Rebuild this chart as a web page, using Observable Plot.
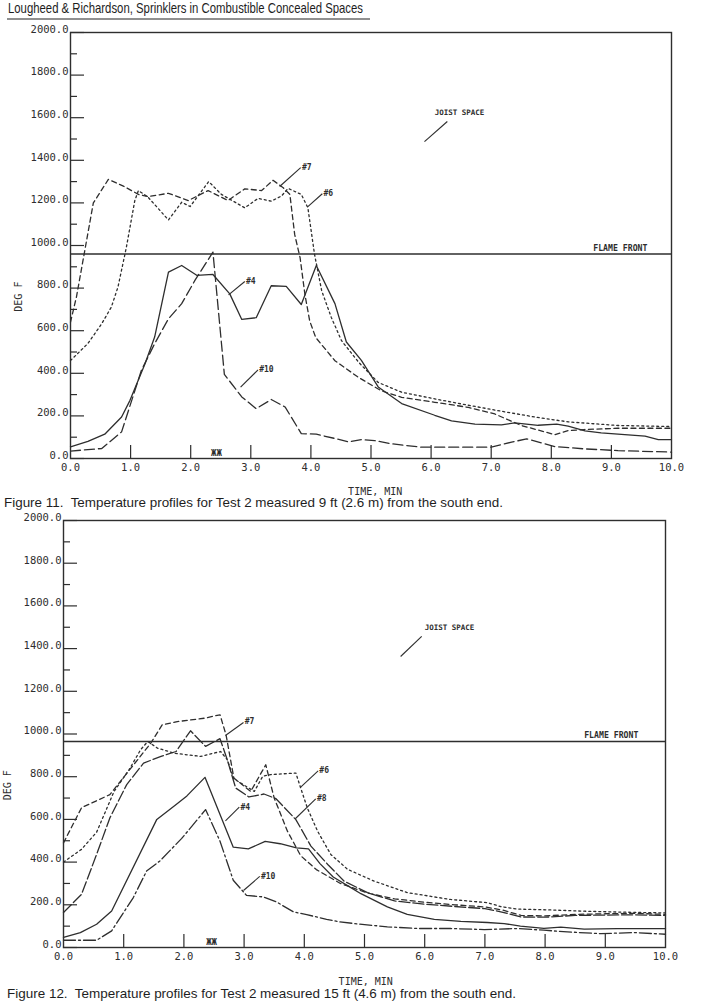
<!DOCTYPE html>
<html>
<head>
<meta charset="utf-8">
<script src="https://cdn.jsdelivr.net/npm/d3@7"></script>
<script src="https://cdn.jsdelivr.net/npm/@observablehq/plot@0.6"></script>
<style>
  body { margin: 0; background: #fff; width: 703px; height: 1007px; position: relative; overflow: hidden; }
  .abs { position: absolute; left: 0; }
  svg text.pre { white-space: pre; }
</style>
</head>
<body>
<div id="fig11" class="abs" style="top:20px"></div>
<div id="fig12" class="abs" style="top:506px"></div>
<div id="hdr" class="abs" style="top:0"></div>
<div id="cap11" class="abs" style="top:492px"></div>
<div id="cap12" class="abs" style="top:984px"></div>
<script>
// ---- axis ticks ----
const timeTicks = [0, 1, 2, 3, 4, 5, 6, 7, 8, 9, 10];
const innerTimeTicks = [1, 2, 3, 4, 5, 6, 7, 8, 9];
const tempTicks = [0, 200, 400, 600, 800, 1000, 1200, 1400, 1600, 1800, 2000];
const minorTempTicks = [100, 300, 500, 700, 900, 1100, 1300, 1500, 1700, 1900];

// ---- Figure 11: 9 ft from the south end, [time (min), temperature (deg F)] ----
const fig11_tc4 = [[0,55],[0.29,80],[0.57,114],[0.85,195],[0.99,273],[1.24,445],[1.4,570],[1.63,875],[1.85,906],[2.1,860],[2.37,864],[2.65,773],[2.85,653],[3.09,661],[3.34,811],[3.59,808],[3.84,723],[4.09,906],[4.4,727],[4.59,547],[4.84,461],[5.12,336],[5.51,258],[6.06,203],[6.34,177],[6.73,161],[7.17,158],[7.39,167],[7.78,156],[8.09,161],[8.28,152],[8.56,130],[8.83,120],[9.11,114],[9.56,105],[9.78,89],[10,89]];
const fig11_tc6 = [[0,460],[0.29,540],[0.52,633],[0.68,711],[0.79,805],[0.93,992],[1.07,1211],[1.13,1258],[1.29,1227],[1.63,1120],[1.85,1203],[1.99,1183],[2.3,1300],[2.51,1240],[2.71,1208],[2.9,1177],[3.12,1221],[3.34,1208],[3.51,1232],[3.62,1268],[3.84,1240],[3.95,1177],[4.06,959],[4.18,787],[4.34,662],[4.51,553],[4.8,450],[5.12,357],[5.51,311],[6.06,280],[6.62,250],[7.17,222],[7.72,195],[8.28,172],[9.11,155],[10,150]];
const fig11_tc7 = [[0,640],[0.1,760],[0.38,1200],[0.63,1310],[0.88,1279],[1.13,1240],[1.29,1230],[1.63,1245],[1.96,1211],[2.29,1258],[2.62,1211],[2.9,1266],[3.18,1258],[3.37,1306],[3.54,1271],[3.65,1240],[3.73,1052],[3.82,943],[3.9,771],[3.98,646],[4.08,568],[4.4,459],[4.79,381],[5.17,318],[5.51,287],[6.06,264],[6.62,240],[7.06,209],[7.5,155],[8.06,112],[8.28,131],[8.55,136],[9.11,142],[10,142]];
const fig11_tc10 = [[0,35],[0.52,47],[0.85,125],[1.18,414],[1.4,539],[1.63,656],[1.85,727],[2.07,836],[2.37,969],[2.56,395],[2.85,289],[3.09,234],[3.34,277],[3.57,242],[3.84,117],[4.09,114],[4.4,94],[4.62,78],[4.84,89],[5.06,84],[5.34,69],[5.84,53],[7.0,53],[7.34,77],[7.59,92],[8.06,56],[8.56,45],[9.11,37],[10,30]];
const fig11_flameFront = 960;

// ---- Figure 12: 15 ft from the south end ----
const fig12_tc4 = [[0,47],[0.28,70],[0.55,109],[0.8,171],[1.55,600],[1.85,665],[2.05,710],[2.35,797],[2.82,470],[3.07,462],[3.35,497],[3.6,486],[3.87,467],[4.07,462],[4.26,393],[4.48,330],[4.76,283],[4.94,252],[5.38,190],[5.71,155],[6.16,132],[6.6,122],[7.04,117],[7.32,112],[7.59,100],[7.98,90],[8.26,95],[8.65,86],[9.2,88],[10,88]];
const fig12_tc6 = [[0,400],[0.3,460],[0.55,540],[0.84,731],[1.09,833],[1.28,926],[1.4,965],[1.56,934],[1.84,910],[2.28,895],[2.61,918],[2.72,880],[2.83,790],[3.17,731],[3.31,802],[3.44,810],[3.86,817],[3.94,747],[4.05,654],[4.22,545],[4.44,436],[4.72,366],[5.16,311],[5.71,257],[6.43,225],[7.04,210],[7.26,192],[7.54,180],[8.09,176],[8.65,170],[9.2,166],[10,162]];
const fig12_tc7 = [[0,490],[0.3,655],[0.77,716],[1.12,840],[1.45,957],[1.64,1043],[1.89,1058],[2.34,1074],[2.6,1090],[2.7,996],[2.83,794],[3.11,731],[3.36,856],[3.5,700],[3.72,545],[3.94,430],[4.2,365],[4.6,300],[5.05,255],[5.5,228],[6.0,212],[6.5,200],[7.0,190],[7.3,175],[7.6,150],[8.0,148],[8.5,155],[9.0,158],[9.5,160],[10,155]];
const fig12_tc8 = [[0,164],[0.3,249],[0.55,436],[0.77,607],[1.05,763],[1.33,864],[1.62,895],[1.87,918],[2.11,1015],[2.36,942],[2.6,978],[2.72,880],[2.86,747],[3.08,705],[3.33,719],[3.53,697],[3.86,599],[4.11,475],[4.39,389],[4.66,311],[5.05,257],[5.5,218],[6.0,203],[6.5,192],[7.0,182],[7.3,165],[7.6,143],[8.0,142],[8.5,150],[9.0,152],[9.5,153],[10,150]];
const fig12_tc10 = [[0,34],[0.55,34],[0.8,78],[1.16,234],[1.38,358],[1.6,405],[1.96,510],[2.11,560],[2.36,646],[2.6,498],[2.82,315],[3.04,244],[3.32,237],[3.54,213],[3.82,167],[4.04,154],[4.37,132],[4.59,120],[4.9,110],[5.38,97],[5.88,89],[6.43,89],[6.99,84],[7.54,89],[7.98,81],[8.37,73],[8.93,65],[9.48,70],[10,62]];
const fig12_flameFront = 965;

// ---- curve tags: text anchor and leader line, in data units ----
const fig11_tags = [
  {label: "#7",  t: 3.85, v: 1368, x1: 3.48, y1: 1277, x2: 3.83, y2: 1366},
  {label: "#6",  t: 4.21, v: 1246, x1: 3.94, y1: 1180, x2: 4.19, y2: 1243},
  {label: "#4",  t: 2.92, v: 832,  x1: 2.63, y1: 768,  x2: 2.90, y2: 831},
  {label: "#10", t: 3.14, v: 416,  x1: 2.83, y1: 335,  x2: 3.12, y2: 416}
];
const fig12_tags = [
  {label: "#7",  t: 3.01, v: 1057, x1: 2.69, y1: 993, x2: 2.99, y2: 1054},
  {label: "#6",  t: 4.25, v: 827,  x1: 3.94, y1: 751, x2: 4.23, y2: 827},
  {label: "#8",  t: 4.21, v: 696,  x1: 3.85, y1: 603, x2: 4.19, y2: 696},
  {label: "#4",  t: 2.94, v: 658,  x1: 2.69, y1: 593, x2: 2.92, y2: 657},
  {label: "#10", t: 3.28, v: 334,  x1: 2.99, y1: 267, x2: 3.26, y2: 333}
];
const fig11_joist = {label: "JOIST SPACE", t: 6.06, v: 1622, x1: 5.89, y1: 1488, x2: 6.27, y2: 1582};
const fig12_joist = {label: "JOIST SPACE", t: 6.0,  v: 1500, x1: 5.6,  y1: 1363, x2: 5.95, y2: 1457};

const ink = "#2e2e2e";
const mono = "'DejaVu Sans Mono', monospace";

function panel(o) {
  const W = 703;
  const plotW = W - o.marginLeft - o.marginRight;
  const plotH = o.height - o.marginTop - o.marginBottom;
  const line = (data, dash) => Plot.line(data, {x: d => d[0], y: d => d[1], stroke: ink, strokeWidth: 1.3, strokeDasharray: dash});
  return Plot.plot({
    width: W, height: o.height,
    marginLeft: o.marginLeft, marginRight: o.marginRight, marginTop: o.marginTop, marginBottom: o.marginBottom,
    x: {domain: [0, 10], axis: null},
    y: {domain: [0, 2000], axis: null},
    style: {background: "transparent", overflow: "visible", fontFamily: mono, color: ink},
    marks: [
      // inward ticks
      Plot.ruleY(tempTicks, {stroke: ink, strokeWidth: 1.2, insetRight: plotW - 14}),
      Plot.ruleY(minorTempTicks, {stroke: ink, strokeWidth: 1.2, insetRight: plotW - 7}),
      Plot.ruleX(innerTimeTicks, {stroke: ink, strokeWidth: 1.2, insetTop: plotH - 13}),
      Plot.frame({stroke: ink, strokeWidth: 1.4}),
      // tick labels
      Plot.text(tempTicks, {x: () => 0, y: d => d, text: d => d.toFixed(1), textAnchor: "end", dx: -2, dy: -3, fontSize: 10.5, fill: ink}),
      Plot.text(timeTicks, {x: d => d, y: () => 0, text: d => d.toFixed(1), dy: 9, fontSize: 10.5, fill: ink}),
      // axis titles
      Plot.text(["DEG F"], {x: () => 0, y: () => 760, rotate: -90, dx: o.degDx, fontSize: 10, fill: ink}),
      Plot.text(["TIME, MIN"], {x: () => o.timeLabelT, y: () => 0, dy: o.timeDy, fontSize: 10, fill: ink}),
      // flame front reference
      Plot.ruleY([o.flame], {stroke: ink, strokeWidth: 1.4}),
      Plot.text(["FLAME FRONT"], {x: () => o.flameLabelT, y: () => o.flame, textAnchor: "end", dy: -6, fontSize: 8.2, fontWeight: "bold", fill: ink}),
      // thermocouple curves
      ...o.curves.map(([data, dash]) => line(data, dash)),
      // tags with leaders
      Plot.link(o.tags, {x1: "x1", y1: "y1", x2: "x2", y2: "y2", stroke: ink, strokeWidth: 1.1}),
      Plot.text(o.tags, {x: "t", y: "v", text: "label", textAnchor: "start", fontSize: 8, fontWeight: "bold", fill: ink}),
      Plot.link([o.joist], {x1: "x1", y1: "y1", x2: "x2", y2: "y2", stroke: ink, strokeWidth: 1.1}),
      Plot.text([o.joist], {x: "t", y: "v", text: "label", textAnchor: "start", fontSize: 7.5, fontWeight: "bold", fill: ink}),
      // sprinkler activation marker
      Plot.text(["ЖЖ"], {x: () => o.markerT, y: () => 0, dy: -5, fontSize: 9, fontWeight: "bold", fill: ink})
    ]
  });
}

document.getElementById("fig11").append(panel({
  height: 478, marginTop: 12, marginBottom: 40, marginLeft: 70, marginRight: 32,
  flame: fig11_flameFront, flameLabelT: 9.6, tags: fig11_tags, joist: fig11_joist,
  markerT: 2.43, degDx: -52, timeLabelT: 5.07, timeDy: 33,
  curves: [[fig11_tc4, null], [fig11_tc6, "2,3"], [fig11_tc7, "5,3.5"], [fig11_tc10, "10,4"]]
}));

document.getElementById("fig12").append(panel({
  height: 486, marginTop: 14, marginBottom: 45, marginLeft: 63, marginRight: 38,
  flame: fig12_flameFront, flameLabelT: 9.55, tags: fig12_tags, joist: fig12_joist,
  markerT: 2.46, degDx: -56, timeLabelT: 5.02, timeDy: 34,
  curves: [[fig12_tc4, null], [fig12_tc6, "2,3"], [fig12_tc7, "5,3.5"], [fig12_tc8, "11,3"], [fig12_tc10, "12,3,2,3"]]
}));

// running head and figure captions
const sans = "'Liberation Sans Narrow', 'Liberation Sans', Arial, sans-serif";
function strip(id, h, items, lines = []) {
  const svg = d3.select("#" + id).append("svg").attr("width", 703).attr("height", h);
  for (const it of items) {
    svg.append("text").attr("class", "pre")
      .attr("x", it.x).attr("y", it.y)
      .attr("textLength", it.len).attr("lengthAdjust", "spacingAndGlyphs")
      .attr("font-family", sans).attr("font-size", it.size).attr("fill", "#1e1e1e")
      .text(it.text);
  }
  for (const l of lines) {
    svg.append("line").attr("x1", l[0]).attr("y1", l[1]).attr("x2", l[2]).attr("y2", l[3])
      .attr("stroke", "#222").attr("stroke-width", 1.2);
  }
}
strip("hdr", 22, [{text: "Lougheed & Richardson, Sprinklers in Combustible Concealed Spaces", x: 8, y: 12.5, len: 355, size: 15}], [[7, 19, 370, 19]]);
strip("cap11", 20, [{text: "Figure 11.  Temperature profiles for Test 2 measured 9 ft (2.6 m) from the south end.", x: 4, y: 15, len: 499, size: 13.5}]);
strip("cap12", 20, [{text: "Figure 12.  Temperature profiles for Test 2 measured 15 ft (4.6 m) from the south end.", x: 7, y: 14, len: 509, size: 13.5}]);
</script>
</body>
</html>
